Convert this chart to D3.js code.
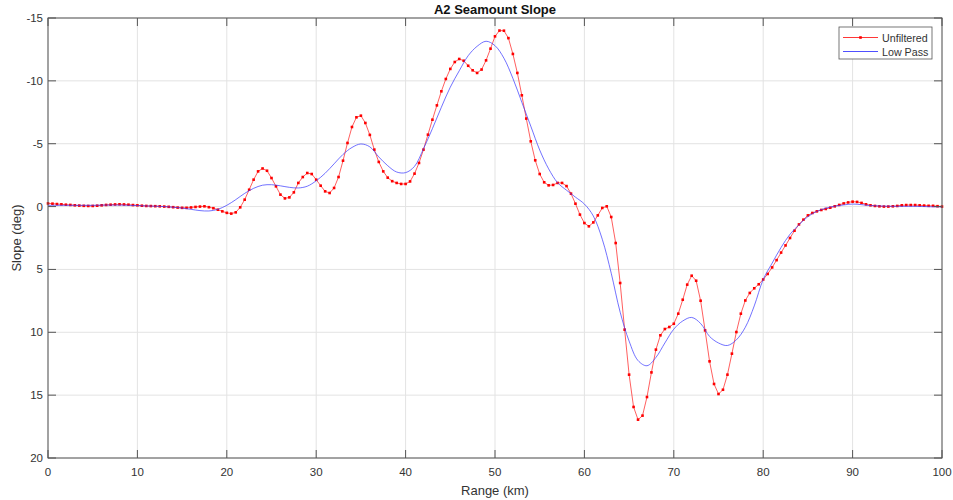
<!DOCTYPE html>
<html>
<head>
<meta charset="utf-8">
<script src="https://cdn.jsdelivr.net/npm/d3@7"></script>
<style>
  body { margin: 0; background: #fff; }
  text { font-family: "Liberation Sans", Arial, sans-serif; fill: #333; }
</style>
</head>
<body>
<script>
'use-strict';

// chart size
let width = 953,
  height = 500;

let margin = { top: 18, right: 11, bottom: 42, left: 48 };

// unfiltered slope, one sample every 0.5 km from 0 to 100 km
let unfilteredStep = 0.5;
let unfiltered = [
  -0.25, -0.23, -0.2, -0.18, -0.15, -0.13, -0.1, -0.08, -0.06, -0.05,
  -0.05, -0.07, -0.1, -0.13, -0.15, -0.17, -0.18, -0.17, -0.15, -0.12,
  -0.1, -0.07, -0.05, -0.04, -0.03, -0.02, 0.0, 0.02, 0.05, 0.08,
  0.1, 0.1, 0.07, 0.03, 0.0, -0.02, 0.05, 0.13, 0.25, 0.38,
  0.5, 0.56, 0.46, 0.06, -0.55, -1.34, -2.14, -2.8, -3.03, -2.85,
  -2.27, -1.61, -0.95, -0.65, -0.73, -1.13, -1.88, -2.35, -2.67, -2.59,
  -2.14, -1.66, -1.21, -1.08, -1.48, -2.35, -3.65, -5.06, -6.33, -7.1,
  -7.23, -6.65, -5.7, -4.53, -3.55, -2.8, -2.3, -2.02, -1.88, -1.8,
  -1.8, -2.0, -2.62, -3.47, -4.53, -5.72, -6.91, -8.05, -9.17, -10.15,
  -10.95, -11.5, -11.74, -11.6, -11.2, -10.84, -10.63, -10.9, -11.63, -12.56,
  -13.54, -14.0, -13.99, -13.4, -12.14, -10.63, -8.85, -7.0, -5.19, -3.68,
  -2.59, -1.93, -1.69, -1.72, -1.88, -1.88, -1.63, -1.03, -0.23, 0.64,
  1.31, 1.57, 1.26, 0.7, 0.11, -0.02, 0.83, 2.9, 6.08, 9.79,
  13.37, 15.94, 16.95, 16.63, 15.15, 13.19, 11.38, 10.24, 9.74, 9.58,
  9.32, 8.52, 7.41, 6.21, 5.5, 5.9, 7.49, 9.85, 12.31, 14.11,
  14.91, 14.57, 13.37, 11.7, 9.98, 8.52, 7.47, 6.87, 6.5, 6.18,
  5.8, 5.36, 4.84, 4.26, 3.66, 3.09, 2.5, 1.92, 1.42, 1.04,
  0.7, 0.51, 0.38, 0.27, 0.19, 0.09, -0.02, -0.13, -0.25, -0.33,
  -0.39, -0.37, -0.29, -0.18, -0.1, -0.05, -0.02, 0.0, 0.0, -0.02,
  -0.05, -0.1, -0.12, -0.12, -0.12, -0.1, -0.08, -0.06, -0.06, -0.03,
  0.0
];

// low pass slope, one sample every 1 km from 0 to 100 km
let lowPassStep = 1;
let lowPass = [
  -0.1, -0.1, -0.1, -0.1, -0.1, -0.1, -0.12, -0.12, -0.12, -0.1,
  -0.08, -0.05, -0.03, 0.0, 0.05, 0.12, 0.22, 0.32, 0.35, 0.22,
  -0.1, -0.55, -1.05, -1.45, -1.7, -1.74, -1.65, -1.53, -1.48, -1.62,
  -2.05, -2.65, -3.4, -4.15, -4.7, -4.98, -4.75, -3.95, -3.25, -2.75,
  -2.7, -3.2, -4.6, -6.2, -7.9, -9.5, -10.8, -12.0, -12.75, -13.15,
  -12.8, -11.8, -10.2, -8.3, -6.4, -4.5, -3.0, -1.9, -1.3, -0.75,
  -0.2, 0.75, 2.6, 5.3, 8.4, 10.7, 12.25, 12.66, 12.0, 10.85,
  9.75, 9.1, 8.82, 9.3, 10.33, 10.85, 11.05, 10.6, 9.6, 7.9,
  5.8, 4.5, 3.25, 2.2, 1.45, 0.8, 0.38, 0.13, -0.03, -0.13,
  -0.2, -0.15, -0.08, -0.05, -0.03, -0.02, -0.02, -0.02, 0.0, 0.02,
  0.02
];

// axis ticks
let xTicks = [0, 10, 20, 30, 40, 50, 60, 70, 80, 90, 100];
let yTicks = [-15, -10, -5, 0, 5, 10, 15, 20];

let title = "A2 Seamount Slope";
let xLabel = "Range (km)";
let yLabel = "Slope (deg)";
let seriesNames = ["Unfiltered", "Low Pass"];

let axisColor = "#555";

window.onload = function () {
  let svg = d3.select("body")
    .append("svg")
    .attr("width", width)
    .attr("height", height);

  let x = d3.scaleLinear()
    .domain([0, 100])
    .range([margin.left, width - margin.right]);

  // slope axis is reversed: negative values on top
  let y = d3.scaleLinear()
    .domain([-15, 20])
    .range([margin.top, height - margin.bottom]);

  drawGrid(svg, x, y);
  drawLines(svg, x, y);
  drawAxes(svg, x, y);
  drawLabels(svg, x, y);
  drawLegend(svg);
}

// light grid lines behind the data
function drawGrid(svg, x, y) {
  let g = svg.append("g").attr("class", "grid");
  g.selectAll("line.vx")
    .data(xTicks)
    .join("line")
    .attr("x1", d => x(d)).attr("x2", d => x(d))
    .attr("y1", y.range()[0]).attr("y2", y.range()[1])
    .attr("stroke", "#e3e3e3")
    .attr("stroke-width", 1);
  g.selectAll("line.hy")
    .data(yTicks)
    .join("line")
    .attr("y1", d => y(d)).attr("y2", d => y(d))
    .attr("x1", x.range()[0]).attr("x2", x.range()[1])
    .attr("stroke", "#e3e3e3")
    .attr("stroke-width", 1);
}

// the two series
function drawLines(svg, x, y) {
  let redPts = unfiltered.map((v, i) => [i * unfilteredStep, v]);
  let bluePts = lowPass.map((v, i) => [i * lowPassStep, v]);

  let line = d3.line()
    .x(d => x(d[0]))
    .y(d => y(d[1]));

  svg.append("path")
    .attr("d", line.curve(d3.curveLinear)(redPts))
    .attr("fill", "none")
    .attr("stroke", "#ff2020")
    .attr("stroke-opacity", 0.8)
    .attr("stroke-width", 0.9);

  svg.append("g")
    .selectAll("rect")
    .data(redPts)
    .join("rect")
    .attr("x", d => x(d[0]) - 1.3)
    .attr("y", d => y(d[1]) - 1.3)
    .attr("width", 2.6)
    .attr("height", 2.6)
    .attr("fill", "#ff0000");

  svg.append("path")
    .attr("d", line.curve(d3.curveCatmullRom)(bluePts))
    .attr("fill", "none")
    .attr("stroke", "#3b3bff")
    .attr("stroke-opacity", 0.8)
    .attr("stroke-width", 0.9);
}

// box with inward ticks on all four sides
function drawAxes(svg, x, y) {
  let tick = 8;
  let g = svg.append("g").attr("class", "axes");

  g.selectAll("line.bx")
    .data(xTicks)
    .join("line")
    .attr("x1", d => x(d)).attr("x2", d => x(d))
    .attr("y1", y.range()[1]).attr("y2", y.range()[1] - tick)
    .attr("stroke", axisColor);
  g.selectAll("line.tx")
    .data(xTicks)
    .join("line")
    .attr("x1", d => x(d)).attr("x2", d => x(d))
    .attr("y1", y.range()[0]).attr("y2", y.range()[0] + tick)
    .attr("stroke", axisColor);
  g.selectAll("line.ly")
    .data(yTicks)
    .join("line")
    .attr("y1", d => y(d)).attr("y2", d => y(d))
    .attr("x1", x.range()[0]).attr("x2", x.range()[0] + tick)
    .attr("stroke", axisColor);
  g.selectAll("line.ry")
    .data(yTicks)
    .join("line")
    .attr("y1", d => y(d)).attr("y2", d => y(d))
    .attr("x1", x.range()[1]).attr("x2", x.range()[1] - tick)
    .attr("stroke", axisColor);

  g.append("rect")
    .attr("x", x.range()[0])
    .attr("y", y.range()[0])
    .attr("width", x.range()[1] - x.range()[0])
    .attr("height", y.range()[1] - y.range()[0])
    .attr("fill", "none")
    .attr("stroke", axisColor)
    .attr("stroke-width", 1);

  g.selectAll("text.xt")
    .data(xTicks)
    .join("text")
    .attr("x", d => x(d))
    .attr("y", y.range()[1] + 18)
    .attr("text-anchor", "middle")
    .attr("font-size", "11.5px")
    .text(d => d);

  g.selectAll("text.yt")
    .data(yTicks)
    .join("text")
    .attr("x", x.range()[0] - 5)
    .attr("y", d => y(d) + 4)
    .attr("text-anchor", "end")
    .attr("font-size", "11.5px")
    .text(d => d);
}

// title and axis labels
function drawLabels(svg, x, y) {
  let cx = (x.range()[0] + x.range()[1]) / 2;
  svg.append("text")
    .attr("x", cx)
    .attr("y", 14)
    .attr("text-anchor", "middle")
    .attr("font-size", "13px")
    .attr("font-weight", "bold")
    .style("fill", "#111")
    .text(title);

  svg.append("text")
    .attr("x", cx)
    .attr("y", 495)
    .attr("text-anchor", "middle")
    .attr("font-size", "13px")
    .text(xLabel);

  svg.append("text")
    .attr("transform", "translate(21," + ((y.range()[0] + y.range()[1]) / 2) + ") rotate(-90)")
    .attr("text-anchor", "middle")
    .attr("font-size", "13px")
    .text(yLabel);
}

// legend box, top right
function drawLegend(svg) {
  let g = svg.append("g").attr("transform", "translate(839,27)");
  g.append("rect")
    .attr("width", 93)
    .attr("height", 32)
    .attr("fill", "#fff")
    .attr("stroke", axisColor)
    .attr("stroke-width", 0.8);

  let colors = ["#ff2020", "#3b3bff"];
  let rows = g.selectAll("g.row")
    .data(seriesNames)
    .join("g")
    .attr("transform", (d, i) => "translate(0," + (10.5 + i * 14) + ")");

  rows.append("line")
    .attr("x1", 4).attr("x2", 39)
    .attr("stroke", (d, i) => colors[i])
    .attr("stroke-width", 0.9);

  rows.filter((d, i) => i === 0)
    .append("rect")
    .attr("x", 20.2).attr("y", -1.3)
    .attr("width", 2.6).attr("height", 2.6)
    .attr("fill", "#ff0000");

  rows.append("text")
    .attr("x", 43)
    .attr("y", 4)
    .attr("font-size", "10.7px")
    .text(d => d);
}
</script>
</body>
</html>
